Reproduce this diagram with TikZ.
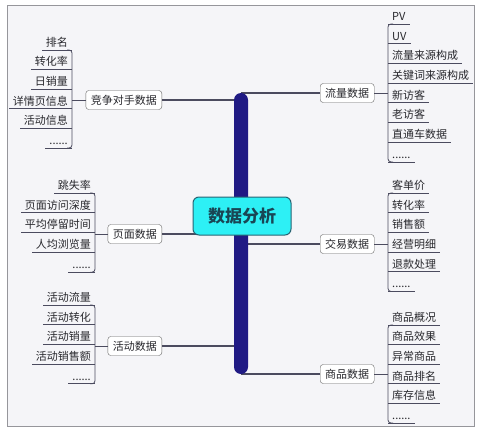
\documentclass[tikz,border=0pt]{standalone}
\usepackage{fontspec}
\setmainfont{Noto Sans CJK SC}
\usetikzlibrary{positioning,calc}
\newcommand{\moreitems}{......}
\definecolor{framegray}{RGB}{150,150,155}
\definecolor{paper}{RGB}{245,245,248}
\definecolor{trunkblue}{RGB}{32,26,132}
\definecolor{linegray}{RGB}{75,75,95}
\definecolor{rootcyan}{RGB}{45,240,245}
\definecolor{rootedge}{RGB}{40,100,115}
\definecolor{roottext}{RGB}{25,70,85}
\definecolor{leaftext}{RGB}{40,40,45}
\tikzset{
  rootbox/.style={
    draw=rootedge,fill=rootcyan,rounded corners=6pt,line width=1pt,
    minimum width=98pt,minimum height=38pt,text=roottext,
    font=\fontsize{17}{20}\selectfont\bfseries
  },
  topicbox/.style={
    draw=black!60,fill=white,rounded corners=3pt,minimum height=19pt,
    inner xsep=5pt,font=\fontsize{11}{13}\selectfont,text=leaftext
  },
  leafline/.style={draw=linegray,line width=0.8pt},
  branchline/.style={draw=linegray,line width=1.1pt},
  bracket/.style={leafline,rounded corners=3pt},
  leaf/.style={
    inner xsep=4pt,inner ysep=1pt,text height=9pt,text depth=2.5pt,
    font=\fontsize{11}{13}\selectfont,text=leaftext
  },
  leafr/.style={leaf,anchor=south west,
    append after command={(\tikzlastnode.south west) edge[leafline] (\tikzlastnode.south east)}},
  leafl/.style={leaf,anchor=south east,
    append after command={(\tikzlastnode.south east) edge[leafline] (\tikzlastnode.south west)}}
}

\begin{document}
\begin{tikzpicture}[x=1pt,y=-1pt]
  \useasboundingbox (0,0) rectangle (482,431);
  \draw[draw=framegray,fill=paper] (7,5) rectangle (474,426);
  % topics
  \node[topicbox,anchor=east] (comp) at (162,100) {竞争对手数据};
  \node[topicbox,anchor=east] (page) at (162,234) {页面数据};
  \node[topicbox,anchor=east] (act) at (162,346) {活动数据};
  \node[topicbox,anchor=west] (flow) at (320,93) {流量数据};
  \node[topicbox,anchor=west] (trade) at (320,244) {交易数据};
  \node[topicbox,anchor=west] (goods) at (320,374) {商品数据};
  % leaves
  \foreach \t [count=\i] in {排名,转化率,日销量,详情页信息,活动信息,\moreitems}
    \node[leafl] (comp-\i) at (72,{50+19.6*(\i-1)}) {\t};
  \foreach \t [count=\i] in {跳失率,页面访问深度,平均停留时间,人均浏览量,\moreitems}
    \node[leafl] (page-\i) at (95,{193+19.8*(\i-1)}) {\t};
  \foreach \t [count=\i] in {活动流量,活动转化,活动销量,活动销售额,\moreitems}
    \node[leafl] (act-\i) at (95,{305+19.7*(\i-1)}) {\t};
  \foreach \t [count=\i] in {PV,UV,流量来源构成,关键词来源构成,新访客,老访客,直通车数据,\moreitems}
    \node[leafr] (flow-\i) at (388,{24+19.7*(\i-1)}) {\t};
  \foreach \t [count=\i] in {客单价,转化率,销售额,经营明细,退款处理,\moreitems}
    \node[leafr] (trade-\i) at (388,{193+19.7*(\i-1)}) {\t};
  \foreach \t [count=\i] in {商品概况,商品效果,异常商品,商品排名,库存信息,\moreitems}
    \node[leafr] (goods-\i) at (388,{325+19.6*(\i-1)}) {\t};
  % brackets
  \draw[bracket] ([xshift=-5pt]comp-1.south east) -- (comp-1.south east) -- (comp-6.south east) -- ([xshift=-5pt]comp-6.south east);
  \draw[bracket] ([xshift=-5pt]page-1.south east) -- (page-1.south east) -- (page-5.south east) -- ([xshift=-5pt]page-5.south east);
  \draw[bracket] ([xshift=-5pt]act-1.south east) -- (act-1.south east) -- (act-5.south east) -- ([xshift=-5pt]act-5.south east);
  \draw[bracket] ([xshift=5pt]flow-1.south west) -- (flow-1.south west) -- (flow-8.south west) -- ([xshift=5pt]flow-8.south west);
  \draw[bracket] ([xshift=5pt]trade-1.south west) -- (trade-1.south west) -- (trade-6.south west) -- ([xshift=5pt]trade-6.south west);
  \draw[bracket] ([xshift=5pt]goods-1.south west) -- (goods-1.south west) -- (goods-6.south west) -- ([xshift=5pt]goods-6.south west);
  \draw[leafline] (comp.west) -- (comp.west -| comp-1.south east);
  \draw[leafline] (page.west) -- (page.west -| page-1.south east);
  \draw[leafline] (act.west) -- (act.west -| act-1.south east);
  \draw[leafline] (flow.east) -- (flow.east -| flow-1.south west);
  \draw[leafline] (trade.east) -- (trade.east -| trade-1.south west);
  \draw[leafline] (goods.east) -- (goods.east -| goods-1.south west);
  % trunk
  \coordinate (top) at (241,93);
  \coordinate (bot) at (241,374);
  \draw[branchline] (comp.east) -- (comp.east -| top);
  \draw[branchline] (page.east) -- (page.east -| top);
  \draw[branchline] (act.east) -- (act.east -| top);
  \draw[branchline] (flow.west) -- (flow.west -| top);
  \draw[branchline] (trade.west) -- (trade.west -| top);
  \draw[branchline] (goods.west) -- (goods.west -| top);
  \fill[trunkblue,rounded corners=7pt] ([xshift=-7pt]top) rectangle ([xshift=7pt]bot);
  \node[rootbox] (root) at (242,216) {数据分析};
\end{tikzpicture}
\end{document}
